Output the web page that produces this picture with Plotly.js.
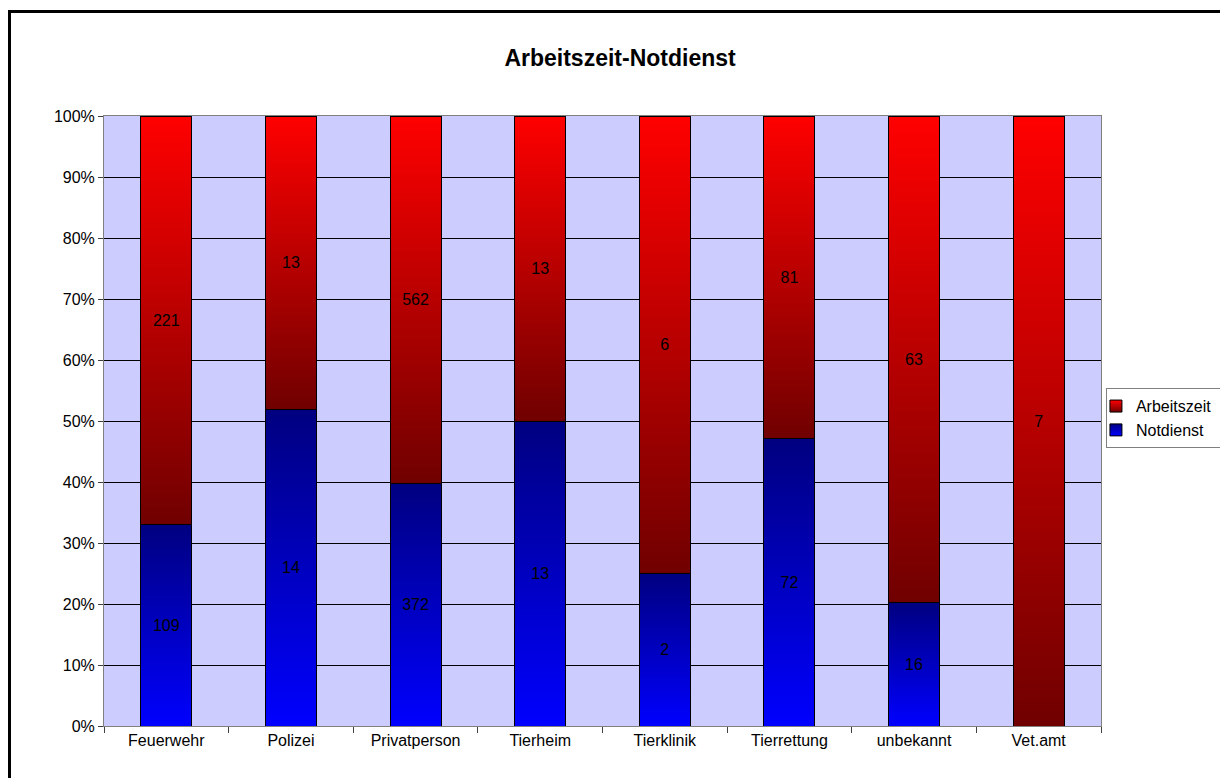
<!DOCTYPE html>
<html>
<head>
<meta charset="utf-8">
<script src="https://cdn.plot.ly/plotly-3.0.1.min.js"></script>
<style>
html,body{margin:0;padding:0;background:#fff;}
#wrap{position:relative;width:1220px;height:778px;overflow:hidden;}
#chart{position:absolute;left:0;top:0;width:1220px;height:778px;}
#frame{position:absolute;left:8px;top:10px;width:1300px;height:900px;border-top:3px solid #000;border-left:3px solid #000;pointer-events:none;}
</style>
</head>
<body>
<div id="wrap"><div id="chart"></div><div id="frame"></div></div>
<script>
const categories = ["Feuerwehr","Polizei","Privatperson","Tierheim","Tierklinik","Tierrettung","unbekannt","Vet.amt"];
const notdienst = [109, 14, 372, 13, 2, 72, 16, 0];
const arbeitszeit = [221, 13, 562, 13, 6, 81, 63, 7];

const font = "Arial, 'Liberation Sans', sans-serif";
const lbl = v => v ? String(v) : "";

const traces = [
  {type:"bar", name:"Notdienst", x:categories, y:notdienst, text:notdienst.map(lbl),
   textposition:"inside", insidetextanchor:"middle", constraintext:"none",
   textfont:{color:"#000", size:16, family:font}, hoverinfo:"skip",
   marker:{color:"#0000c0", line:{color:"#000", width:1}}},
  {type:"bar", name:"Arbeitszeit", x:categories, y:arbeitszeit, text:arbeitszeit.map(lbl),
   textposition:"inside", insidetextanchor:"middle", constraintext:"none",
   textfont:{color:"#000", size:16, family:font}, hoverinfo:"skip",
   marker:{color:"#c00000", line:{color:"#000", width:1}}}
];

const layout = {
  width:1220, height:778,
  paper_bgcolor:"rgba(0,0,0,0)", plot_bgcolor:"#CCCCFF",
  margin:{l:104, r:119, t:116, b:52, autoexpand:false},
  barmode:"stack", barnorm:"percent", bargap:0.59,
  font:{family:font, size:16, color:"#000"},
  title:{text:"<b>Arbeitszeit-Notdienst</b>", font:{size:23, family:font, color:"#000"},
         x:0.5176, xref:"paper", xanchor:"center", y:56, yref:"container", yanchor:"middle"},
  xaxis:{type:"category", tickson:"boundaries", ticks:"outside", ticklen:6, tickcolor:"#404040",
         showline:true, linecolor:"#808080", linewidth:1, mirror:true, showgrid:false,
         tickfont:{size:16, family:font, color:"#000"}},
  yaxis:{range:[0,100], dtick:10, ticksuffix:"%", ticks:"outside", ticklen:5, tickcolor:"#404040",
         showgrid:true, gridcolor:"#000", gridwidth:1, zeroline:false,
         showline:true, linecolor:"#808080", linewidth:1, mirror:true,
         tickfont:{size:16, family:font, color:"#000"}},
  legend:{xref:"container", yref:"container", x:0.8975, xanchor:"left", y:0.4625, yanchor:"middle",
          traceorder:"reversed",
          bordercolor:"#808080", borderwidth:1, bgcolor:"#fff",
          font:{size:16, family:font, color:"#000"}, itemwidth:30, tracegroupgap:0}
};

Plotly.newPlot("chart", traces, layout, {staticPlot:true}).then(gd => {
  const svg = gd.querySelector("svg.main-svg");
  const NS = "http://www.w3.org/2000/svg";
  let defs = svg.querySelector("defs");
  if (!defs) { defs = document.createElementNS(NS, "defs"); svg.insertBefore(defs, svg.firstChild); }
  function grad(id, top, bottom) {
    const g = document.createElementNS(NS, "linearGradient");
    g.setAttribute("id", id);
    g.setAttribute("x1","0"); g.setAttribute("y1","0"); g.setAttribute("x2","0"); g.setAttribute("y2","1");
    [[0, top],[1, bottom]].forEach(([o,c]) => {
      const s = document.createElementNS(NS, "stop");
      s.setAttribute("offset", o); s.setAttribute("stop-color", c);
      g.appendChild(s);
    });
    defs.appendChild(g);
  }
  grad("gradRed", "#FF0000", "#700000");
  grad("gradBlue", "#000080", "#0000FF");
  const ids = {"Notdienst":"gradBlue", "Arbeitszeit":"gradRed"};
  gd.querySelectorAll(".barlayer .trace").forEach((t, i) => {
    const id = i === 0 ? "gradBlue" : "gradRed";
    t.querySelectorAll(".point path").forEach(p => { p.style.fill = "url(#" + id + ")"; });
  });
  gd.querySelectorAll(".legend .traces").forEach(t => {
    const name = t.querySelector(".legendtext").textContent;
    t.querySelectorAll(".legendpoints path").forEach(p => { p.style.fill = "url(#" + ids[name] + ")"; p.style.stroke = "#000"; });
  });
  const bg = gd.querySelector(".legend rect.bg");
  if (bg) {
    const x = parseFloat(bg.getAttribute("x") || 0), w = parseFloat(bg.getAttribute("width"));
    bg.setAttribute("x", x + 11); bg.setAttribute("width", w + 10);
  }
});
</script>
</body>
</html>
